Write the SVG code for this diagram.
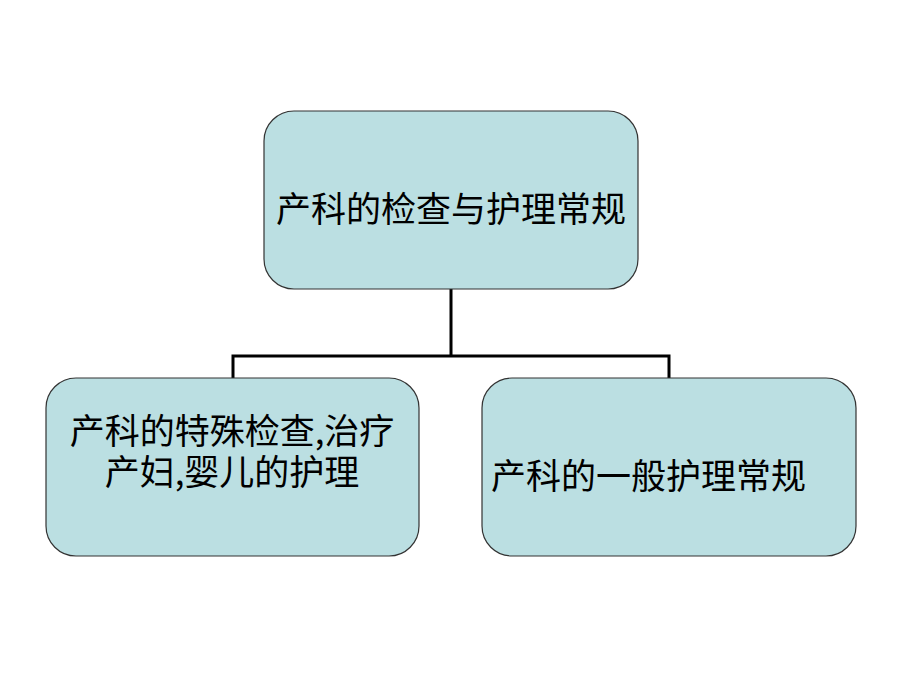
<svg xmlns="http://www.w3.org/2000/svg" width="900" height="675" viewBox="0 0 900 675">
<style>
.box{fill:#BBDFE2;stroke:#333333;stroke-width:1.2}
.t{font-family:"Noto Sans CJK SC","Noto Sans CJK TC",sans-serif;font-size:35px;fill:#000000}
.c{fill:none;stroke:#000000;stroke-width:3}
</style>
<rect width="900" height="675" fill="#ffffff"/>
<g id="connectors">
<path class="c" d="M451 289 V356 M233 356 H669 M233 354.5 V378 M669 354.5 V378"/>
</g>
<g id="node-root">
<rect class="box" x="264" y="111" width="374" height="178" rx="30" ry="30"/>
<text class="t" x="451" y="222" text-anchor="middle">产科的检查与护理常规</text>
</g>
<g id="node-left">
<rect class="box" x="46" y="378" width="373" height="178" rx="30" ry="30"/>
<text class="t" x="232" y="444" text-anchor="middle">产科的特殊检查,治疗</text>
<text class="t" x="232" y="485" text-anchor="middle">产妇,婴儿的护理</text>
</g>
<g id="node-right">
<rect class="box" x="482" y="378" width="374" height="178" rx="30" ry="30"/>
<text class="t" x="491" y="489">产科的一般护理常规</text>
</g>
</svg>
